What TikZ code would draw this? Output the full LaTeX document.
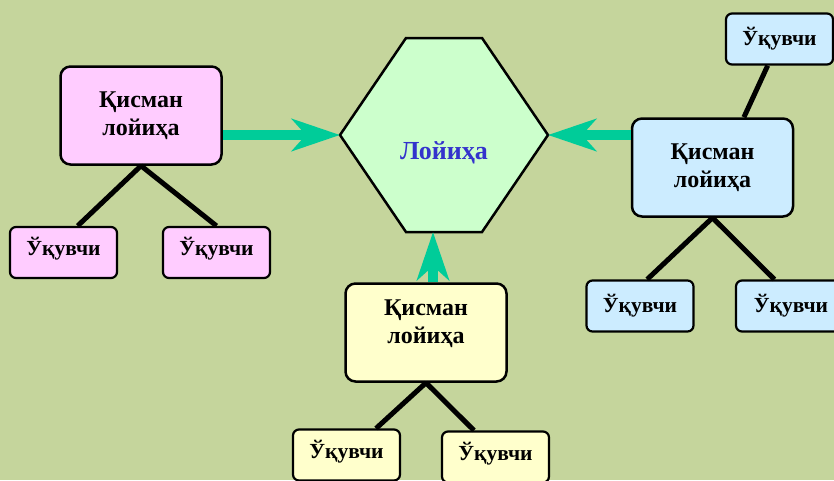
\documentclass[tikz,border=0pt]{standalone}
\usepackage{fontspec}
\setmainfont{Liberation Serif}
\usetikzlibrary{positioning, arrows.meta, calc}

\definecolor{bgolive}{RGB}{197,213,156}
\definecolor{pinkfill}{RGB}{255,204,255}
\definecolor{bluefill}{RGB}{204,236,255}
\definecolor{yellowfill}{RGB}{255,255,204}
\definecolor{hexfill}{RGB}{204,255,204}
\definecolor{flowteal}{RGB}{0,204,153}
\definecolor{projblue}{RGB}{51,51,204}

\begin{document}
\begin{tikzpicture}[x=1pt, y=-1pt,
				part/.style={draw, line width=2.5pt, rounded corners=10pt, minimum width=161pt, minimum height=98pt, align=center, font=\fontsize{24}{28}\selectfont\bfseries},
				pupil/.style={draw, line width=2.2pt, rounded corners=6pt, minimum width=107pt, minimum height=51pt, font=\fontsize{21.5}{24}\selectfont\bfseries},
				tie/.style={line width=5pt},
				flow/.style={flowteal, line width=10pt, -{Stealth[length=48pt, width=32pt, inset=14pt]}}
				]
				\path[use as bounding box, clip] (0,0) rectangle (834,480);
				\fill[bgolive] (0,0) rectangle (834,480);
				\draw[line width=2.5pt, fill=hexfill] (340,135) coordinate (hl) -- (406,38) -- (482,38)
					-- (548,135) coordinate (hr) -- (482,232) -- (406,232) -- cycle;
				\coordinate (hb) at (433,232);
				\node[projblue, font=\fontsize{26}{30}\selectfont\bfseries] (proj) at (444,153) {Лойиҳа};

				\node[part, fill=pinkfill] (pinkpart) at (141,115.5) {Қисман\\лойиҳа};
				\node[pupil, fill=pinkfill, text depth=13pt] (pinkA) at (63.5,252.5) {Ўқувчи};
				\node[pupil, fill=pinkfill, text depth=13pt] (pinkB) at (216.5,252.5) {Ўқувчи};

				\node[part, fill=bluefill] (bluepart) at (712.5,167.5) {Қисман\\лойиҳа};
				\node[pupil, fill=bluefill] (blueT) at (779.5,39) {Ўқувчи};
				\node[pupil, fill=bluefill] (blueA) at (640,306) {Ўқувчи};
				\node[pupil, fill=bluefill, minimum width=110pt] (blueB) at (791,306) {Ўқувчи};

				\node[part, fill=yellowfill, text depth=21pt] (yellowpart) at (426,332.5) {Қисман\\лойиҳа};
				\node[pupil, fill=yellowfill, text depth=11pt] (yellowA) at (346.5,455) {Ўқувчи};
				\node[pupil, fill=yellowfill, text depth=11pt] (yellowB) at (495.5,457) {Ўқувчи};

				\draw[tie] (pinkpart.south) -- (pinkA.62);
				\draw[tie] (pinkpart.south) -- (pinkB.north);
				\draw[tie] (bluepart.58) -- (blueT.246);
				\draw[tie] (bluepart.south) -- (blueA.75);
				\draw[tie] (bluepart.south) -- (blueB.122);
				\draw[tie] (yellowpart.south) -- (yellowA.42);
				\draw[tie] (yellowpart.south) -- (yellowB.129);

				\draw[flow] (pinkpart.east |- hl) -- (hl);
				\draw[flow] (bluepart.west |- hr) -- (hr);
				\draw[flow] (yellowpart.north -| hb) -- (hb);
			\end{tikzpicture}
\end{document}
